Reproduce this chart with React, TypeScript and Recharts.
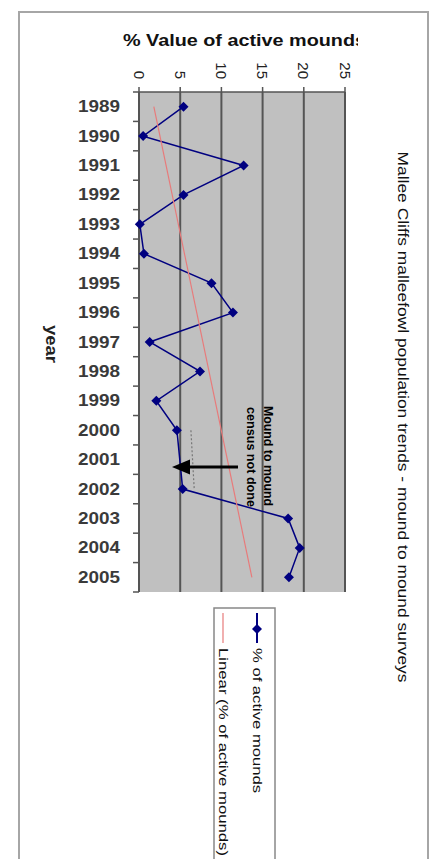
import React from "react";
import { CartesianGrid, Legend, Line, LineChart, ReferenceLine, XAxis, YAxis } from "recharts";

const years = [
  "1989", "1990", "1991", "1992", "1993", "1994", "1995", "1996", "1997",
  "1998", "1999", "2000", "2001", "2002", "2003", "2004", "2005",
];
// % of active mounds (2001: census not done)
const activePct = [5.4, 0.5, 12.7, 5.4, 0.1, 0.6, 8.8, 11.4, 1.3, 7.4, 2.1, 4.6, null, 5.3, 18.1, 19.5, 18.2];
// linear trend, end points
const trendPct = [1.8, null, null, null, null, null, null, null, null, null, null, null, null, null, null, null, 13.7];
const valueTicks = [0, 5, 10, 15, 20, 25];

const data = years.map((year, i) => ({ year, pct: activePct[i], trend: trendPct[i] }));

const FONT = "'Liberation Sans', Arial, sans-serif";
const NAVY = "#000080";
const PINK = "#e77b7b";
const GRID = "#555";

function Diamond(props: any) {
  const { cx, cy } = props;
  if (cx == null || cy == null) return <g />;
  return <polygon points={`${cx},${cy - 5} ${cx + 5},${cy} ${cx},${cy + 5} ${cx - 5},${cy}`} fill={NAVY} />;
}

function ValueTick(props: any) {
  const { x, payload } = props;
  const y = 79;
  return (
    <text x={x} y={y} transform={`rotate(90 ${x} ${y})`} textAnchor="end" dominantBaseline="central"
      fontFamily={FONT} fontSize={15} fill="#222">
      {payload.value}
    </text>
  );
}

function YearTick(props: any) {
  const { y, payload, index } = props;
  const half = payload.offset || 14.7;
  const last = index === years.length - 1;
  return (
    <g>
      <line x1={133} x2={139} y1={y - half} y2={y - half} stroke={GRID} strokeWidth={1.5} />
      {last && <line x1={133} x2={139} y1={y + half} y2={y + half} stroke={GRID} strokeWidth={1.5} />}
      <text x={120} y={y} textAnchor="end" dominantBaseline="central" fontFamily={FONT} fontSize={16}
        fontWeight="bold" fill="#3a3a3a" textLength={42} lengthAdjust="spacingAndGlyphs">
        {payload.value}
      </text>
    </g>
  );
}

function renderLegend(props: any) {
  const items = props.payload || [];
  return (
    <svg width={64} height={253} style={{ display: "block" }}>
      <rect x={1} y={1} width={61} height={270} fill="#fff" stroke="#888" strokeWidth={1.5} />
      {items.map((it: any, i: number) => {
        const x = 44 - i * 34;
        return (
          <g key={it.value}>
            <line x1={x} x2={x} y1={6} y2={36} stroke={it.color} strokeWidth={i === 0 ? 2 : 1.2} />
            {i === 0 && <polygon points={`${x},17 ${x + 5},22 ${x},27 ${x - 5},22`} fill={NAVY} />}
            <text x={x} y={41} transform={`rotate(90 ${x} 41)`} dominantBaseline="central" fontFamily={FONT}
              fontSize={13} fill="#111" textLength={i === 0 ? 145 : 208} lengthAdjust="spacingAndGlyphs">
              {it.value}
            </text>
          </g>
        );
      })}
    </svg>
  );
}

export default function App() {
  return (
    <div style={{ position: "absolute", left: 0, top: 0, width: 431, height: 859, background: "#fff", overflow: "hidden" }}>
      <div style={{ position: "absolute", left: 0, top: 0 }}>
        <LineChart layout="vertical" width={431} height={859} data={data}
          margin={{ top: 0, right: 86, bottom: 267, left: 0 }}>
          <CartesianGrid horizontal={false} stroke={GRID} strokeWidth={2} fill="#c0c0c0" fillOpacity={1} />
          <XAxis type="number" orientation="top" domain={[0, 25]} ticks={valueTicks} interval={0} height={92}
            axisLine={{ stroke: GRID, strokeWidth: 1.5 }} tickLine={{ stroke: GRID, strokeWidth: 1.5 }} tickSize={5}
            tick={<ValueTick />} />
          <XAxis xAxisId="b" type="number" orientation="bottom" domain={[0, 25]} height={0} tick={false}
            tickLine={false} axisLine={{ stroke: GRID, strokeWidth: 1.5 }} />
          <YAxis type="category" scale="band" dataKey="year" width={139} interval={0} tickLine={false}
            axisLine={{ stroke: GRID, strokeWidth: 1.5 }} tick={<YearTick />} />
          <ReferenceLine segment={[{ x: 6.3, y: "2000" }, { x: 6.7, y: "2002" }]} stroke="#777"
            strokeDasharray="2 2" strokeWidth={1.2} />
          <Line dataKey="pct" name="% of active mounds" stroke={NAVY} strokeWidth={1.5} dot={<Diamond />}
            isAnimationActive={false} />
          <Line dataKey="trend" name="Linear (% of active mounds)" stroke={PINK} strokeWidth={1.2} dot={false}
            connectNulls isAnimationActive={false} />
          <Legend layout="vertical" align="center" verticalAlign="middle" content={renderLegend}
            wrapperStyle={{ position: "absolute", left: 213, top: 607, width: 64, height: 253 }} />
        </LineChart>
      </div>
      <svg width={431} height={859} style={{ position: "absolute", left: 0, top: 0, pointerEvents: "none" }}>
        <defs>
          <clipPath id="axisTitleClip">
            <rect x={0} y={0} width={358} height={80} />
          </clipPath>
        </defs>
        <rect x={19} y={12} width={409} height={870} fill="none" stroke="#a6a6a6" strokeWidth={2} />
        <text x={123} y={40} dominantBaseline="central" fontFamily={FONT} fontSize={16} fontWeight="bold"
          fill="#111" textLength={243} lengthAdjust="spacingAndGlyphs" clipPath="url(#axisTitleClip)">
          % Value of active mounds
        </text>
        <text x={51} y={344} transform="rotate(90 51 344)" textAnchor="middle" dominantBaseline="central"
          fontFamily={FONT} fontSize={16} fontWeight="bold" fill="#222" textLength={38} lengthAdjust="spacingAndGlyphs">
          year
        </text>
        <text x={403} y={417} transform="rotate(90 403 417)" textAnchor="middle" dominantBaseline="central"
          fontFamily={FONT} fontSize={15} fill="#111" textLength={531} lengthAdjust="spacingAndGlyphs">
          Mallee Cliffs malleefowl population trends - mound to mound surveys
        </text>
        <text x={268} y={456} transform="rotate(90 268 456)" textAnchor="middle" dominantBaseline="central"
          fontFamily={FONT} fontSize={12} fontWeight="bold" fill="#000" textLength={100} lengthAdjust="spacingAndGlyphs">
          Mound to mound
        </text>
        <text x={251} y={457} transform="rotate(90 251 457)" textAnchor="middle" dominantBaseline="central"
          fontFamily={FONT} fontSize={12} fontWeight="bold" fill="#000" textLength={100} lengthAdjust="spacingAndGlyphs">
          census not done
        </text>
        <line x1={238} x2={188} y1={467} y2={467} stroke="#000" strokeWidth={3} />
        <polygon points="172,467 190,459.5 190,474.5" fill="#000" />
      </svg>
    </div>
  );
}
